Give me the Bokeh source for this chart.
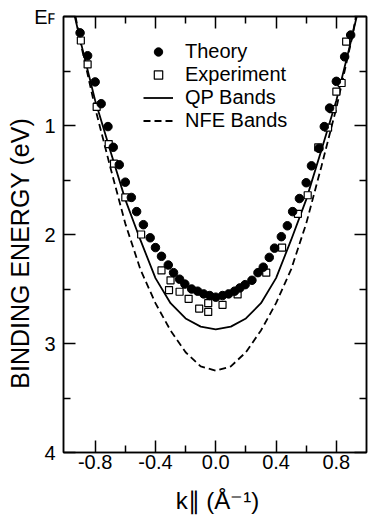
from bokeh.plotting import figure
from bokeh.models import (Range1d, LinearAxis, FixedTicker, PrintfTickFormatter,
                          Legend, LegendItem, CustomLabelingPolicy)
from bokeh.embed import file_html
from bokeh.resources import INLINE

# ---- data ----
theory_k = [-0.90, -0.85, -0.80, -0.76, -0.715, -0.68, -0.64, -0.60, -0.56, -0.525,
            -0.48, -0.435, -0.40, -0.36, -0.315, -0.28, -0.24, -0.205, -0.16, -0.12,
            -0.08, -0.04, 0.0, 0.045, 0.085, 0.125, 0.16, 0.195, 0.24, 0.28,
            0.315, 0.355, 0.39, 0.435, 0.475, 0.51, 0.555, 0.60, 0.635, 0.685,
            0.72, 0.755, 0.80, 0.855, 0.895]
theory_e = [0.15, 0.36, 0.60, 0.80, 1.01, 1.20, 1.36, 1.52, 1.66, 1.79,
            1.91, 2.03, 2.12, 2.20, 2.28, 2.35, 2.41, 2.455, 2.50, 2.52,
            2.545, 2.56, 2.575, 2.56, 2.545, 2.52, 2.49, 2.46, 2.42, 2.35,
            2.30, 2.21, 2.125, 2.02, 1.92, 1.79, 1.67, 1.525, 1.37, 1.21,
            1.01, 0.84, 0.595, 0.37, 0.17]

exp_k = [-0.895, -0.85, -0.79, -0.71, -0.675, -0.60, -0.495, -0.36, -0.30, -0.31,
         -0.24, -0.18, -0.11, -0.05, -0.05, 0.045, 0.145, 0.335, 0.44, 0.545,
         0.61, 0.68, 0.745, 0.775, 0.80, 0.835, 0.865]
exp_e = [0.22, 0.44, 0.83, 1.17, 1.35, 1.66, 2.00, 2.33, 2.42, 2.51,
         2.525, 2.59, 2.68, 2.63, 2.71, 2.645, 2.55, 2.35, 2.12, 1.81,
         1.64, 1.20, 1.02, 0.85, 0.69, 0.61, 0.23]

qp_k = [-0.935, -0.9, -0.8, -0.7, -0.6, -0.5, -0.4, -0.3, -0.2, -0.1, 0.0,
        0.1, 0.2, 0.3, 0.4, 0.5, 0.6, 0.7, 0.8, 0.9, 0.935]
qp_e = [0.0, 0.21, 0.77, 1.23, 1.68, 2.05, 2.40, 2.63, 2.77, 2.845, 2.87,
        2.845, 2.77, 2.63, 2.40, 2.05, 1.68, 1.23, 0.77, 0.21, 0.0]

nfe_k = [-0.93, -0.9, -0.8, -0.7, -0.6, -0.5, -0.4, -0.3, -0.2, -0.1, 0.0,
         0.1, 0.2, 0.3, 0.4, 0.5, 0.6, 0.7, 0.8, 0.9, 0.93]
nfe_e = [0.0, 0.22, 0.84, 1.38, 1.90, 2.32, 2.63, 2.88, 3.08, 3.21, 3.25,
         3.21, 3.08, 2.88, 2.63, 2.32, 1.90, 1.38, 0.84, 0.22, 0.0]

x_major = [-0.8, -0.4, 0.0, 0.4, 0.8]
x_minor = [-0.6, -0.2, 0.2, 0.6]
y_major = [0, 1, 2, 3, 4]
y_minor = [0.5, 1.5, 2.5, 3.5]
y_labels = {0: "E\ua730", 1: "1", 2: "2", 3: "3", 4: "4"}

FONT = "Liberation Sans"

p = figure(width=370, height=520, output_backend="svg", toolbar_location=None,
           x_range=Range1d(-1.01, 1.0), y_range=Range1d(4, 0),
           min_border_left=63, min_border_right=2, min_border_top=16, min_border_bottom=68)
p.xgrid.visible = False
p.ygrid.visible = False
p.outline_line_color = "black"
p.outline_line_width = 1.5
p.background_fill_color = "white"
p.border_fill_color = "white"

l_nfe = p.line(nfe_k, nfe_e, line_color="black", line_width=1.8, line_dash="7 4")
l_qp = p.line(qp_k, qp_e, line_color="black", line_width=1.8)
r_exp = p.scatter(exp_k, exp_e, marker="square", size=7, fill_color="white",
                  line_color="black", line_width=1.2)
r_th = p.scatter(theory_k, theory_e, marker="circle", size=8.5, fill_color="black",
                 line_color="black")

hide_all = CustomLabelingPolicy(code="""
    const all = [...indices]
    for (const i of all) indices.unset(i)
    return indices
""")

def style_axis(ax, labels=True):
    ax.axis_line_color = "black"
    ax.axis_line_width = 1.5
    ax.major_tick_in = 12
    ax.major_tick_out = 0
    ax.minor_tick_in = 7
    ax.minor_tick_out = 0
    ax.major_tick_line_width = 1.5
    ax.minor_tick_line_width = 1.5
    ax.major_tick_line_color = "black"
    ax.minor_tick_line_color = "black"
    if not labels:
        ax.major_label_text_font_size = "1px"
        ax.major_label_standoff = 0
        ax.major_label_policy = hide_all
        ax.axis_label = None

xb = p.xaxis[0]
yl = p.yaxis[0]
style_axis(xb)
style_axis(yl)
xb.ticker = FixedTicker(ticks=x_major, minor_ticks=x_minor)
yl.ticker = FixedTicker(ticks=y_major, minor_ticks=y_minor)
xb.formatter = PrintfTickFormatter(format="%.1f")
yl.major_label_overrides = y_labels

xt = LinearAxis(ticker=FixedTicker(ticks=x_major, minor_ticks=x_minor))
style_axis(xt, labels=False)
p.add_layout(xt, "above")
yr = LinearAxis(ticker=FixedTicker(ticks=y_major, minor_ticks=y_minor))
style_axis(yr, labels=False)
p.add_layout(yr, "right")

for ax in (xb, yl):
    ax.major_label_text_font = FONT
    ax.major_label_text_font_size = "20px"
    ax.major_label_text_color = "black"
    ax.axis_label_text_font = FONT
    ax.axis_label_text_font_style = "normal"
    ax.axis_label_text_color = "black"

xb.major_label_standoff = 2
xb.axis_label = "k\u2225 (Å\u207b\u00b9)"
xb.axis_label_text_font_size = "24px"
xb.axis_label_standoff = 15
yl.major_label_standoff = 8
yl.axis_label = "BINDING ENERGY (eV)\u2003\u2002"
yl.axis_label_text_font_size = "25px"
yl.axis_label_standoff = -3

legend = Legend(items=[
    LegendItem(label="Theory", renderers=[r_th]),
    LegendItem(label="Experiment", renderers=[r_exp]),
    LegendItem(label="QP Bands", renderers=[l_qp]),
    LegendItem(label="NFE Bands", renderers=[l_nfe]),
], location=(80, 320))
legend.label_text_font = FONT
legend.label_text_font_size = "20px"
legend.label_text_color = "black"
legend.glyph_width = 30
legend.glyph_height = 21
legend.label_height = 21
legend.label_standoff = 12
legend.spacing = 0
legend.padding = 0
legend.margin = 0
legend.border_line_color = None
legend.background_fill_alpha = 0
p.add_layout(legend)

open("out.html", "w").write(file_html(p, INLINE))
